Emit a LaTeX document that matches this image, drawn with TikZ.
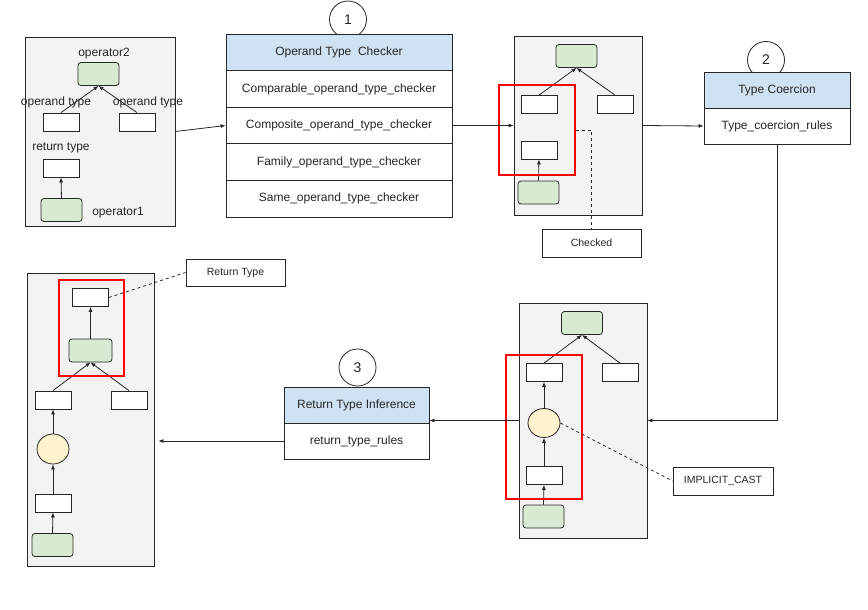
\documentclass[tikz,border=0pt]{standalone}
\usepackage{fontspec}
\setmainfont{Liberation Sans}
\usetikzlibrary{arrows.meta,shapes.geometric}
\definecolor{pfill}{HTML}{F3F3F3}
\definecolor{gfill}{HTML}{D9EAD3}
\definecolor{yfill}{HTML}{FFF2CC}
\definecolor{bfill}{HTML}{CFE2F3}
\definecolor{ink}{HTML}{262626}
\definecolor{redl}{HTML}{FF0000}
\begin{document}
\begin{tikzpicture}[x=1pt,y=-1pt,
  every node/.style={text=ink},
  panel/.style={draw=ink, fill=pfill, line width=0.8pt, inner sep=0},
  wbox/.style={draw=ink, fill=white, line width=0.8pt, minimum width=36pt, minimum height=18pt, inner sep=0},
  gbox/.style={draw=ink, fill=gfill, rounded corners=3pt, line width=0.8pt, minimum width=41pt, minimum height=23pt, inner sep=0},
  ybox/.style={draw=ink, fill=yfill, ellipse, line width=0.8pt, minimum width=32pt, minimum height=29pt, inner sep=0},
  redbox/.style={draw=redl, line width=1.5pt, inner sep=0},
  cell/.style={draw=ink, fill=white, line width=0.8pt, inner sep=0, font=\fontsize{12}{14}\selectfont},
  head/.style={cell, fill=bfill},
  num/.style={draw=ink, fill=white, circle, line width=0.8pt, minimum size=37pt, inner sep=0, font=\fontsize{14}{16}\selectfont},
  lbl/.style={font=\fontsize{12}{14}\selectfont, inner sep=0},
  note/.style={draw=ink, fill=white, line width=0.8pt, inner sep=0, font=\fontsize{10.5}{12}\selectfont},
  arr/.style={draw=ink, line width=0.8pt, -{Latex[length=5pt,width=4pt]}},
  link/.style={draw=ink, line width=0.8pt, dashed},
]
\useasboundingbox (0,0) rectangle (868,610);

% ---------- panels ----------
\node[panel, minimum width=150pt, minimum height=189pt] (p1) at (100,131.5) {};
\node[panel, minimum width=128pt, minimum height=179pt] (p2) at (578,125.5) {};
\node[panel, minimum width=128pt, minimum height=235pt] (p4) at (583,420.5) {};
\node[panel, minimum width=127pt, minimum height=293pt] (p5) at (90.5,419.5) {};

% ---------- number circles (behind headers) ----------
\node[num] (c1) at (348,19.5) {1};
\node[num] (c2) at (766,60) {2};
\node[num] (c3) at (357.5,367.5) {3};

% ---------- Operand Type Checker table ----------
\node[head, minimum width=226pt, minimum height=36.6pt] (th) at (339,52.3) {Operand Type\ \ Checker};
\node[cell, minimum width=226pt, minimum height=36.6pt] (r1) at (339,88.9) {Comparable\_operand\_type\_checker};
\node[cell, minimum width=226pt, minimum height=36.6pt] (r2) at (339,125.5) {Composite\_operand\_type\_checker};
\node[cell, minimum width=226pt, minimum height=36.6pt] (r3) at (339,162.1) {Family\_operand\_type\_checker};
\node[cell, minimum width=226pt, minimum height=36.6pt] (r4) at (339,198.7) {Same\_operand\_type\_checker};

% ---------- Type Coercion table ----------
\node[head, minimum width=146pt, minimum height=36pt] (tch) at (777,90) {Type Coercion};
\node[cell, minimum width=146pt, minimum height=36pt] (tcr) at (777,126) {Type\_coercion\_rules};

% ---------- Return Type Inference table ----------
\node[head, minimum width=145pt, minimum height=36pt] (rth) at (356.5,405) {Return Type Inference};
\node[cell, minimum width=145pt, minimum height=36pt] (rtr) at (356.5,441) {return\_type\_rules};

% ---------- panel 1 ----------
\node[gbox] (p1g2) at (98.5,74) {};
\node[wbox] (p1a) at (61,122) {};
\node[wbox] (p1b) at (137,122) {};
\node[wbox] (p1r) at (61,168) {};
\node[gbox] (p1g1) at (61.5,210) {};
\draw[arr] (p1a.north) -- (p1g2.south);
\draw[arr] (p1b.north) -- (p1g2.south);
\draw[arr] (p1g1.north) -- (p1r.south);
\node[lbl] (t1) at (104,54) {operator2};
\node[lbl] (t2) at (56,102) {operand type};
\node[lbl] (t3) at (148,102) {operand type};
\node[lbl] (t4) at (61,148) {return type};
\node[lbl] (t5) at (118,213) {operator1};

% ---------- panel 2 ----------
\node[gbox] (p2g) at (576.5,56) {};
\node[wbox] (p2a) at (539,104.5) {};
\node[wbox] (p2b) at (615,104.5) {};
\node[wbox] (p2c) at (539,150) {};
\node[gbox] (p2g1) at (538.5,192.5) {};
\draw[arr] (p2a.north) -- (p2g.south);
\draw[arr] (p2b.north) -- (p2g.south);
\draw[arr] (p2g1.north) -- (p2c.south);
\node[redbox, minimum width=76pt, minimum height=90pt] (red2) at (537,130) {};
\node[note, minimum width=99pt, minimum height=28pt] (chk) at (591.5,243) {Checked};
\draw[link] (red2.east) -| (chk.north);

% ---------- panel 4 ----------
\node[gbox] (p4g) at (582,323) {};
\node[wbox] (p4a) at (544,372.5) {};
\node[wbox] (p4b) at (620,372.5) {};
\node[ybox] (p4e) at (544,423) {};
\node[wbox] (p4c) at (544,475.5) {};
\node[gbox] (p4g1) at (543.5,516.5) {};
\draw[arr] (p4a.north) -- (p4g.south);
\draw[arr] (p4b.north) -- (p4g.south);
\draw[arr] (p4e.north) -- (p4a.south);
\draw[arr] (p4c.north) -- (p4e.south);
\draw[arr] (p4g1.north) -- (p4c.south);
\node[redbox, minimum width=76pt, minimum height=144pt] (red4) at (544,427) {};
\node[note, minimum width=100pt, minimum height=28pt] (ic) at (723,481) {IMPLICIT\_CAST};
\draw[link] (p4e.east) -- (ic.west);

% ---------- panel 5 ----------
\node[wbox] (p5t) at (90.5,297.5) {};
\node[gbox, minimum width=43pt] (p5g) at (90.5,350.5) {};
\node[wbox] (p5a) at (53,400) {};
\node[wbox] (p5b) at (129,400) {};
\node[ybox, minimum height=30pt] (p5e) at (53,449) {};
\node[wbox] (p5c) at (53,503) {};
\node[gbox] (p5g1) at (52.5,545) {};
\draw[arr] (p5g.north) -- (p5t.south);
\draw[arr] (p5a.north) -- (p5g.south);
\draw[arr] (p5b.north) -- (p5g.south);
\draw[arr] (p5e.north) -- (p5a.south);
\draw[arr] (p5c.north) -- (p5e.south);
\draw[arr] (p5g1.north) -- (p5c.south);
\node[redbox, minimum width=65pt, minimum height=96pt] (red5) at (91.5,328) {};
\node[note, minimum width=99pt, minimum height=27pt] (rt) at (235.5,272.5) {Return Type};
\draw[link] (p5t.east) -- (rt.west);

% ---------- main flow ----------
\draw[arr] (p1.east) -- (r2.west);
\draw[arr] (r2.east) -- (p2.west);
\draw[arr] (p2.east) -- (tcr.west);
\draw[arr] (tcr.south) |- (p4.east);
\draw[arr] (p4.west) -- (p4.west -| rth.east);
\draw[arr] (rtr.west) -- ([xshift=4pt]rtr.west -| p5.east);
\end{tikzpicture}
\end{document}
